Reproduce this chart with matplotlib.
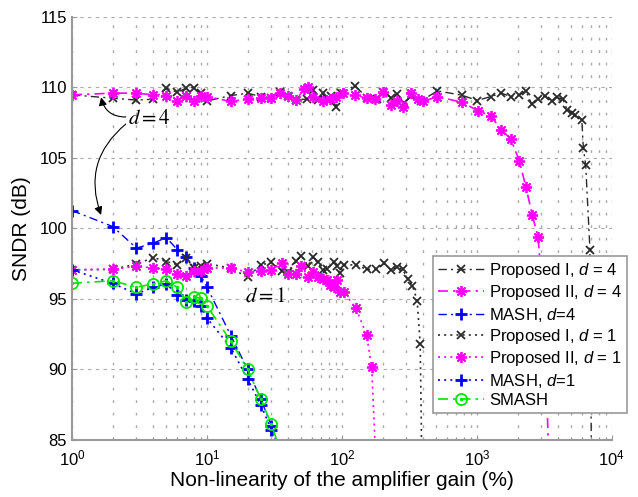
import numpy as np
import matplotlib
matplotlib.use('Agg')
import matplotlib.pyplot as plt
from matplotlib.legend_handler import HandlerTuple

plt.rcParams['font.family'] = ['Liberation Sans', 'DejaVu Sans']
plt.rcParams['mathtext.fontset'] = 'custom'
plt.rcParams['mathtext.rm'] = 'Liberation Sans'
plt.rcParams['mathtext.it'] = 'Liberation Sans:italic'

# Proposed I, d = 4
p1_d4_x = [1, 2, 3, 4, 5, 6, 7, 8, 9, 10, 15, 20, 25, 30, 35, 40, 46, 55, 61, 66, 72, 77, 83, 90, 98,
           125, 152, 181, 202, 230, 255, 290, 326, 385, 510, 770, 1010, 1265, 1520, 1780, 2065, 2310,
           2540, 2850, 3200, 3600, 3900, 4340, 4670, 5050, 5350, 5990, 6150, 6400, 6880, 7100]
p1_d4_y = [109.47, 109.23, 109.1, 109.16, 109.94, 109.66, 109.94, 109.99, 109.59, 109.04, 109.42, 109.59,
           109.35, 109.28, 109.66, 109.42, 109.11, 109.18, 109.82, 109.11, 109.59, 109.18, 109.42, 108.64,
           109.59, 110.13, 109.28, 109.18, 109.7, 109.28, 109.52, 108.88, 109.42, 109.04, 109.75, 109.45,
           109.07, 109.35, 109.59, 109.35, 109.47, 109.75, 108.83, 109.16, 109.4, 109.0, 109.3, 109.16,
           108.4, 108.2, 108.05, 107.7, 105.7, 104.5, 98.5, 80.0]

# Proposed II, d = 4
p2_d4_x = [1, 2, 3, 4, 5, 6, 7, 8, 9, 10, 15, 20, 25, 30, 35, 40, 46, 52, 56, 61, 72, 81, 90, 102,
           125, 152, 175, 202, 230, 255, 285, 326, 365, 400, 510, 770, 1012, 1265, 1520, 1780, 2060,
           2310, 2570, 2840, 3000, 3150, 3300, 3450]
p2_d4_y = [109.47, 109.59, 109.59, 109.47, 109.42, 109.0, 109.42, 109.0, 109.4, 109.35, 109.0, 109.18,
           109.28, 109.28, 109.59, 109.42, 109.11, 109.89, 110.06, 109.35, 109.0, 109.18, 109.35, 109.59,
           109.47, 109.23, 109.18, 109.7, 108.76, 109.0, 108.64, 109.59, 109.18, 109.0, 109.35, 108.95,
           108.36, 107.98, 106.99, 106.35, 104.81, 102.92, 100.96, 99.38, 96.5, 92.5, 88.0, 82.0]

# MASH / SMASH
mash_x = [1, 2, 3, 4, 5, 6, 7, 8, 9, 10, 15, 20, 25, 30, 40]
mash_d4_y = [101.26, 100.13, 98.6, 98.95, 99.35, 98.5, 97.96, 97.18, 96.63, 95.83, 92.4, 90.0, 87.9, 86.0, 82.0]
mash_d1_y = [97.06, 96.1, 95.35, 95.83, 96.06, 95.3, 94.93, 94.85, 94.5, 93.63, 91.55, 89.3, 87.5, 85.7, 82.0]
smash_y = [96.11, 96.28, 95.83, 96.06, 96.28, 95.83, 94.81, 95.12, 95.05, 94.5, 92.0, 90.0, 87.9, 86.1, 82.5]

# Proposed I, d = 1
p1_d1_x = [1, 2, 3, 4, 5, 6, 7, 8, 9, 10, 15, 20, 25, 30, 36, 40, 46, 50, 56, 61, 66, 72, 77, 87, 92,
           96, 103, 127, 152, 178, 205, 230, 255, 281, 307, 333, 361, 380, 395]
p1_d1_y = [97.06, 97.1, 97.46, 97.93, 97.65, 97.43, 97.88, 97.2, 97.3, 97.5, 97.18, 96.54, 97.41, 97.58,
           96.99, 96.94, 97.7, 98.05, 97.34, 97.96, 97.58, 97.06, 97.1, 97.65, 97.34, 96.82, 97.41, 97.41,
           97.1, 97.1, 97.53, 97.06, 97.25, 97.1, 96.42, 95.94, 94.86, 91.8, 80.0]

# Proposed II, d = 1
p2_d1_x = [1, 2, 3, 4, 5, 6, 7, 8, 9, 10, 15, 20, 25, 30, 36, 40, 46, 50, 56, 61, 66, 72, 77, 82, 87,
           92, 96, 103, 127, 152, 166, 185]
p2_d1_y = [97.06, 97.1, 97.3, 97.2, 97.1, 96.77, 96.6, 97.0, 96.95, 97.2, 97.18, 96.9, 96.99, 97.06,
           97.53, 96.77, 96.77, 97.36, 96.54, 96.94, 96.54, 96.42, 96.35, 96.0, 95.87, 96.35, 95.52,
           95.47, 94.34, 92.45, 90.18, 80.0]

y_ticks = [85, 90, 95, 100, 105, 110, 115]

BLACK = '#2a2a2a'
MAG = '#ff00ff'
BLUE = '#0000ff'
GREEN = '#00e600'
DASHDOT = (0, (6, 3, 1.5, 3))
DOT = (0, (1.2, 2.5))
STAR = (8, 2, 0)

fig = plt.figure(figsize=(6.38, 4.97), dpi=100)
ax = fig.add_axes([0.113, 0.115, 0.846, 0.851])

l1, = ax.plot(p1_d4_x, p1_d4_y, color=BLACK, ls=DASHDOT, lw=1, marker='x', ms=6, mew=1.3,
              label='Proposed I, $d$ = 4')
l2, = ax.plot(p2_d4_x, p2_d4_y, color=MAG, ls=DASHDOT, lw=1.2, marker=STAR, ms=8, mew=1.3,
              label='Proposed II, $d$ = 4')
l3, = ax.plot(mash_x, mash_d4_y, color=BLUE, ls=DASHDOT, lw=1, marker='+', ms=9, mew=2,
              label='MASH, $d$=4')
l4, = ax.plot(p1_d1_x, p1_d1_y, color=BLACK, ls=DOT, lw=1.2, marker='x', ms=6, mew=1.3,
              label='Proposed I, $d$ = 1')
l5, = ax.plot(p2_d1_x, p2_d1_y, color=MAG, ls=DOT, lw=1.2, marker=STAR, ms=8, mew=1.3,
              label='Proposed II, $d$ = 1')
l6, = ax.plot(mash_x, mash_d1_y, color=BLUE, ls=DOT, lw=1.2, marker='+', ms=9, mew=2,
              label='MASH, $d$=1')
l7, = ax.plot(mash_x, smash_y, color=GREEN, ls=DASHDOT, lw=1.2, marker='o', ms=8, mew=1.3,
              mfc='none', label='SMASH')
l7b, = ax.plot(mash_x, smash_y, ls='none', color=GREEN, marker='.', ms=3)

ax.set_xscale('log')
ax.set_xlim(1, 1e4)
ax.set_ylim(85, 115)
ax.set_yticks(y_ticks)

ax.grid(True, which='major', axis='y', color='#aaaaaa', ls=(0, (3, 4)), lw=0.8)
ax.grid(True, which='both', axis='x', color='#aaaaaa', ls=(0, (2, 7)), lw=1.0)
for s in ['top', 'right']:
    ax.spines[s].set_visible(False)
for s in ['left', 'bottom']:
    ax.spines[s].set_color('#999999')
    ax.spines[s].set_linewidth(1.5)
ax.tick_params(which='both', direction='in', colors='#999999', labelcolor='black', labelsize=12)
ax.tick_params(which='minor', length=2)
ax.tick_params(axis='x', which='both', pad=6)
ax.set_axisbelow(True)

ax.set_xlabel('Non-linearity of the amplifier gain (%)', fontsize=15, labelpad=2)
ax.set_ylabel('SNDR (dB)', fontsize=15, labelpad=6)

ax.text(2.6, 107.77, r'$d = 4$', fontsize=15, va='center', ha='left', math_fontfamily='stix')
ax.text(19.1, 95.2, r'$d = 1$', fontsize=15, va='center', ha='left', math_fontfamily='stix')
arr = dict(arrowstyle='-|>', color='black', lw=0.8, mutation_scale=12, shrinkA=0, shrinkB=0)
ax.annotate('', xy=(1.64, 109.3), xytext=(2.5, 107.9),
            arrowprops=dict(arr, connectionstyle='arc3,rad=-0.4'))
ax.annotate('', xy=(1.64, 100.95), xytext=(2.5, 107.4),
            arrowprops=dict(arr, connectionstyle='arc3,rad=0.35'))

leg = ax.legend([l1, l2, l3, l4, l5, l6, (l7, l7b)],
                [l.get_label() for l in [l1, l2, l3, l4, l5, l6, l7]],
                handler_map={tuple: HandlerTuple(ndivide=1, pad=0)},
                loc='upper left', bbox_to_anchor=(0.668, 0.435), fontsize=12,
                handlelength=2.8, handletextpad=0.3, labelspacing=0.2,
                borderpad=0.3, borderaxespad=0, fancybox=False, framealpha=1)
leg.get_frame().set_edgecolor('#999999')
leg.get_frame().set_linewidth(1.2)

fig.savefig('out.png', dpi=100)
